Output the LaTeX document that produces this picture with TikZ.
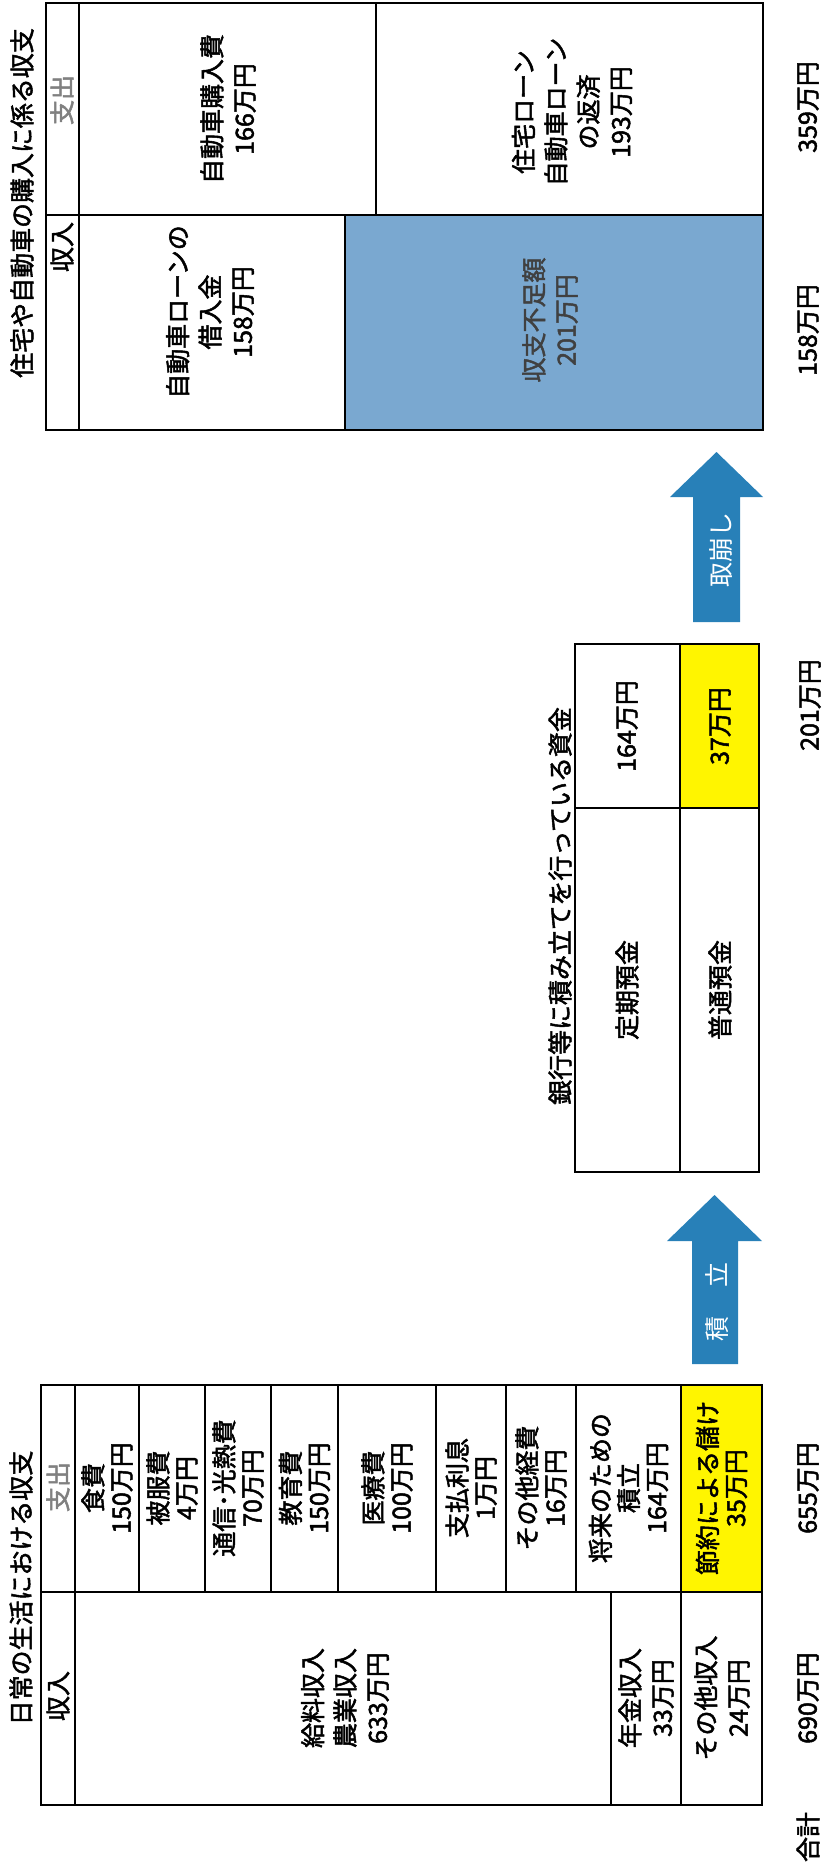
\documentclass[tikz,border=0pt]{standalone}
\usepackage{fontspec}
\setmainfont{Noto Sans CJK JP}[FakeBold=2]
\newfontfamily\arrowfont{Noto Sans CJK JP}
\definecolor{shortblue}{RGB}{122,168,208}
\definecolor{arrowblue}{RGB}{40,128,184}
\definecolor{hiyellow}{RGB}{255,245,0}

\begin{document}
\begin{tikzpicture}[x=0.01cm, y=-0.01cm, line width=0.6pt,
	txt/.style={rotate=90, align=center, inner sep=0pt, font=\fontsize{7.1}{9.2}\selectfont},
	tighttxt/.style={txt, font=\fontsize{7.1}{8.0}\selectfont},
	headout/.style={txt, text=black!50},
	arrowtxt/.style={txt, text=white, font=\arrowfont\fontsize{7.1}{9.2}\selectfont}]
	\useasboundingbox (0,0) rectangle (825,1867);

	% house / car block
	\fill[shortblue] (345,215) rectangle (763,430);
	\draw (46,3) rectangle (763,430);
	\draw (79,3) -- (79,430);
	\draw (46,215) -- (763,215);
	\draw (376,3) -- (376,215);
	\draw (345,215) -- (345,430);
	\node[txt] (carTitle) at (22,203) {住宅や自動車の購入に係る収支};
	\node[headout] (carOut) at (62,100) {支出};
	\node[txt] (carIn) at (62,247) {収入};
	\node[txt] (carBuy) at (228,109) {自動車購入費\\166万円};
	\node[txt] (carRepay) at (572,112) {住宅ローン\\自動車ローン\\の返済\\193万円};
	\node[txt] (carLoan) at (210,312) {自動車ローンの\\借入金\\158万円};
	\node[txt, text=black!75] (carShort) at (550,320) {収支不足額\\201万円};
	\node[txt] (carSumOut) at (808,107) {359万円};
	\node[txt] (carSumIn) at (808,330) {158万円};

	\fill[arrowblue] (693,622) -- (693,497) -- (670,497) -- (716.5,452) -- (763,497) -- (740,497) -- (740,622) -- cycle;
	\node[arrowtxt] (drawText) at (721,550) {取崩し};

	% bank
	\fill[hiyellow] (680,644) rectangle (759,808);
	\draw (575,644) rectangle (759,1172);
	\draw (680,644) -- (680,1172);
	\draw (575,808) -- (759,808);
	\node[txt] (bankTitle) at (560,906) {銀行等に積み立てを行っている資金};
	\node[txt] (fixedAmt) at (627,726) {164万円};
	\node[txt] (savAmt) at (720,726) {37万円};
	\node[txt] (fixedDep) at (627,990) {定期預金};
	\node[txt] (savDep) at (720,990) {普通預金};
	\node[txt] (bankSum) at (810,705) {201万円};

	\fill[arrowblue] (692,1364) -- (692,1241) -- (667,1241) -- (714.5,1195) -- (762,1241) -- (738,1241) -- (738,1364) -- cycle;
	\node[arrowtxt] (saveText) at (717,1302) {積\hspace{0.3cm}立};

	% daily life
	\fill[hiyellow] (681,1385) rectangle (762,1592);
	\draw (41,1385) rectangle (762,1805);
	\draw (75,1385) -- (75,1805);
	\draw (41,1592) -- (762,1592);
	\foreach \xa/\xb/\lbl [count=\i] in {75/139/{食費\\150万円}, 139/205/{被服費\\4万円},
		205/271/{通信･光熱費\\70万円}, 271/338/{教育費\\150万円}, 338/436/{医療費\\100万円},
		436/506/{支払利息\\1万円}, 506/576/{その他経費\\16万円},
		576/681/{将来のための\\積立\\164万円}, 681/762/{節約による儲け\\35万円}} {
		\draw (\xb,1385) -- (\xb,1592);
		\node[tighttxt] (exp\i) at ({(\xa+\xb)/2},1488) {\lbl};
	}
	\draw (611,1592) -- (611,1805);
	\draw (681,1592) -- (681,1805);
	\node[txt] (lifeTitle) at (21,1588) {日常の生活における収支};
	\node[headout] (lifeOut) at (58,1487) {支出};
	\node[txt] (lifeIn) at (58,1696) {収入};
	\node[txt] (salary) at (345,1698) {給料収入\\農業収入\\633万円};
	\node[txt] (pension) at (646,1698) {年金収入\\33万円};
	\node[txt] (otherIn) at (722,1698) {その他収入\\24万円};
	\node[txt] (sumOut) at (808,1488) {655万円};
	\node[txt] (sumIn) at (808,1698) {690万円};
	\node[txt] (sumLabel) at (808,1837) {合計};
\end{tikzpicture}
\end{document}
